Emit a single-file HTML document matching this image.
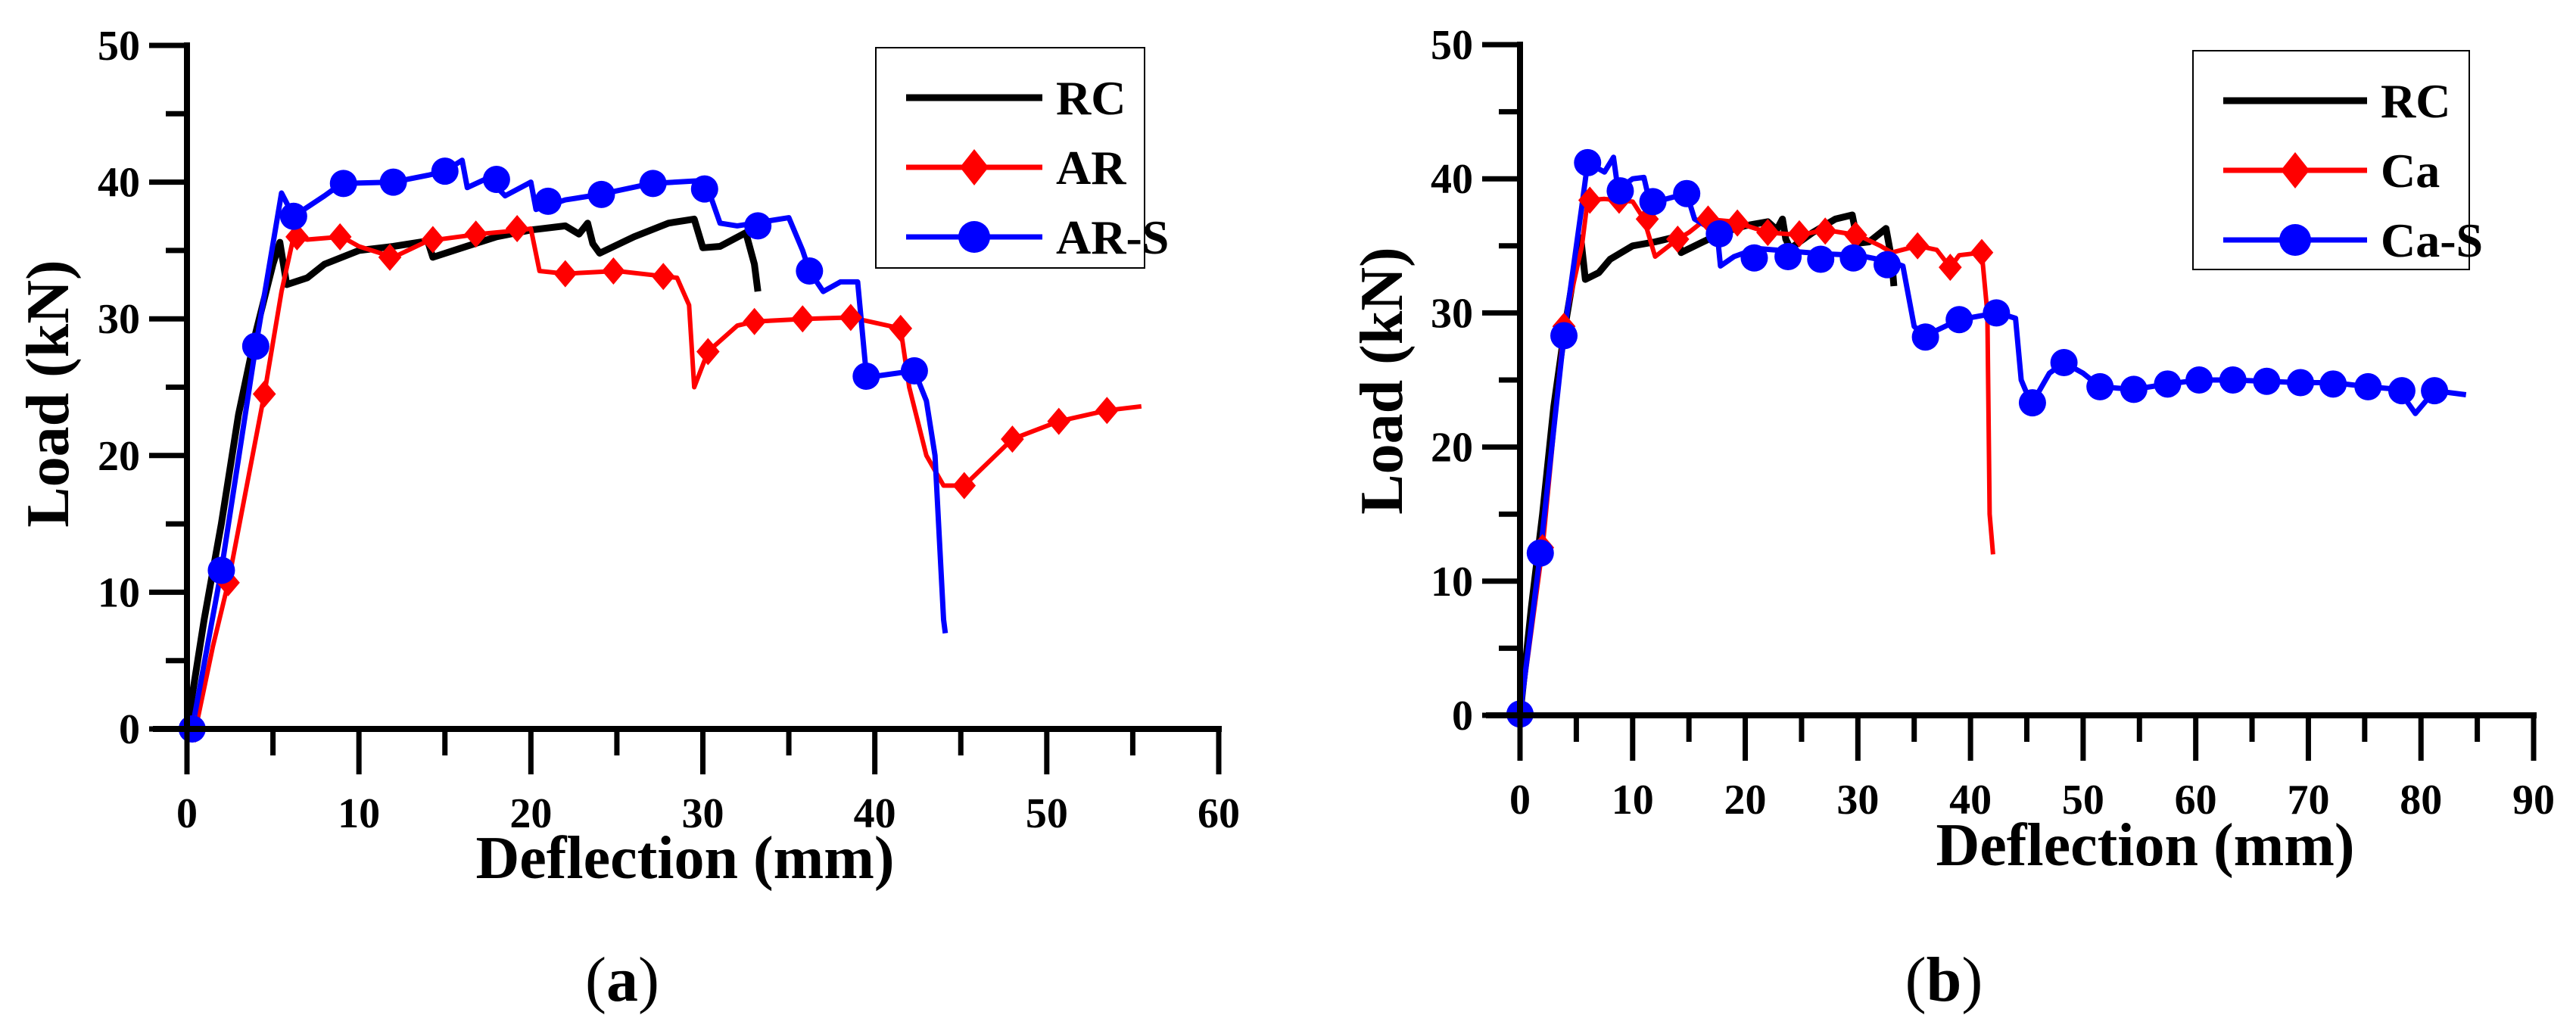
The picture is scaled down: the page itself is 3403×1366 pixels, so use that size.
<!DOCTYPE html>
<html><head><meta charset="utf-8"><style>
html,body{margin:0;padding:0;background:#fff;}
svg{display:block;font-family:"Liberation Serif",serif;}
</style></head><body>
<svg id="fig" width="3403" height="1366" viewBox="0 0 3403 1366" xmlns="http://www.w3.org/2000/svg"></svg>
<script>
// ---------- Panel (a) data ----------
const aRC_x=[0,1,2,3,4,5,5.4,5.8,7,8,10,12,14,14.3,16,18,20,22,22.8,23.3,23.6,24,26,28,29.5,30,31,32.5,33,33.2];
const aRC_y=[0,8,15,23,29,34,35.6,32.5,33,34,35,35.3,35.7,34.5,35.2,36,36.5,36.8,36.2,37,35.5,34.8,36,37,37.3,35.2,35.3,36.3,34,32];
const aAR_x=[0.5,1.5,2.4,4.5,5.5,6.2,7,9,10,12,14,17,19.5,20,20.5,22,25,27.8,28.5,29.2,29.5,30.3,32,33,36,38.6,41.5,42,43,44,45.2,48,50.7,53.5,55.5];
const aAR_y=[0,6,10.7,24.5,32,36,35.8,36,35.3,34.5,35.7,36.2,36.5,36.6,33.5,33.3,33.5,33.1,33,31,25,27.6,29.5,29.8,30,30.1,29.3,25,20,17.8,17.8,21.2,22.5,23.3,23.6];
const aARm_x=[0.5,2.4,4.5,6.4,8.9,11.8,14.3,16.8,19.2,22,24.8,27.7,30.3,33,35.8,38.6,41.5,45.2,48,50.7,53.5];
const aARm_y=[0,10.7,24.5,36,36,34.5,35.8,36.2,36.6,33.3,33.5,33.1,27.6,29.8,30,30.1,29.3,17.8,21.2,22.5,23.3];
const aARS_x=[0.3,2,4,5.5,6.2,8,9,12,14,15,16,16.3,17.5,18.5,20,20.3,22,24,27,29.8,30.3,31,32,33,35,35.8,36.2,37,38,39,39.5,40,42.3,43,43.5,44,44.1];
const aARS_y=[0,11.6,28,39.2,37.5,39,39.9,40,40.5,40.8,41.6,39.6,40.3,39,40,38,38.7,39.1,39.9,40.1,39.5,37,36.8,37,37.4,35,33.5,32,32.7,32.7,26,25.8,26.2,24,20,8,7];
const aARSm_x=[0.3,2,4,6.2,9.1,12,15,18,21,24.1,27.1,30.1,33.2,36.2,39.5,42.3];
const aARSm_y=[0,11.6,28,37.5,39.9,40,40.8,40.2,38.6,39.1,39.9,39.5,36.8,33.5,25.8,26.2];
// ---------- Panel (b) data ----------
const bRC_x=[0,1,2,3,4,5,5.4,5.8,7,8,10,12,14,14.3,16,18,20,22,22.8,23.3,23.6,24,26,28,29.5,30,31,32.5,33,33.2];
const bRC_y=[0,8,15,23,29,34,35.6,32.5,33,34,35,35.3,35.7,34.5,35.2,36,36.5,36.8,36.2,37,35.5,34.8,36,37,37.3,35.2,35.3,36.3,34,32];
const bCa_x=[0,2,3.9,5.5,6,7.5,10,11,12,14,15,16.5,19,22,25,27,30,32,33,35.3,37,38.2,39,41,41.5,41.7,42];
const bCa_y=[0,12.5,29,35,38.4,38.5,38.3,37,34.2,35.5,36,37,36.8,36,35.8,36.2,35.8,35,34.5,35,34.7,33.4,34.3,34.5,30,15,12];
const bCam_x=[2,3.9,6.2,8.8,11.3,14,16.7,19.3,22,24.8,27.1,29.8,35.3,38.2,41];
const bCam_y=[12.5,29,38.4,38.4,37,35.5,37,36.7,36,35.9,36.1,35.8,35,33.4,34.5];
const bCaS_x=[0,1.8,3.9,5.5,6,7.5,8.3,8.7,10,11,11.5,13,14.8,15.5,17.5,17.8,19,21,24,27,30,33,34,35,36,37,39,41,42.5,44,44.5,45,45.5,47,48.3,50,51.5,54.5,57.5,60.3,63.3,66.3,69.3,72.2,75.3,78,79.5,81.2,84];
const bCaS_y=[0,12.1,28.3,38,41.2,40.5,41.6,39.2,40,40.1,38.3,38.5,38.9,37,36,33.5,34.2,34.8,34.6,34.4,34.3,33.8,33.5,29,28.2,28.7,29.5,29.8,30,29.6,25,24,23.3,25.5,26.3,25.5,24.5,24.3,24.7,25,25,24.9,24.8,24.8,24.5,24.3,22.5,24.2,23.9];
const bCaSm_x=[0,1.8,3.9,6,8.9,11.8,14.8,17.7,20.8,23.8,26.7,29.6,32.6,36,39,42.3,45.5,48.3,51.5,54.5,57.5,60.3,63.3,66.3,69.3,72.2,75.3,78.3,81.2];
const bCaSm_y=[0.1,12.1,28.3,41.2,39.1,38.3,38.9,35.9,34.1,34.2,34,34.1,33.6,28.2,29.5,30,23.3,26.3,24.5,24.3,24.7,25,25,24.9,24.8,24.7,24.5,24.2,24.2];
const yTicks=[0,10,20,30,40,50];
const aXTicks=[0,10,20,30,40,50,60];
const bXTicks=[0,10,20,30,40,50,60,70,80,90];

const NS="http://www.w3.org/2000/svg";
const svg=document.getElementById('fig');
function mk(tag,attrs,parent){const e=document.createElementNS(NS,tag);for(const k in attrs)e.setAttribute(k,attrs[k]);(parent||svg).appendChild(e);return e;}

function panel(P){
  const g=mk('g',{});
  
  
  const sx=v=>P.x0+(v-P.xmin)*(P.x1-P.x0)/(P.xmax-P.xmin);
  const sy=v=>P.y0-(v)*(P.y0-P.y1)/50;
  const series=[[P.s1x,P.s1y,'#000',9,'rc'],[P.s2x,P.s2y,'#ff0000',6,P.s2n],[P.s3x,P.s3y,'#0000ff',7,P.s3n]];
  series.forEach(s=>{
    const pts=s[0].map((x,i)=>sx(x).toFixed(1)+','+sy(s[1][i]).toFixed(1)).join(' ');
    const pl=mk('polyline',{points:pts,fill:'none',stroke:s[2],'stroke-width':s[3],'stroke-linejoin':'round'},g);
    
    
  });
  P.m2x.forEach((x,i)=>{
    const cx=sx(x),cy=sy(P.m2y[i]),r=18;
    const d=mk('polygon',{points:`${cx},${cy-r} ${cx+r*0.85},${cy} ${cx},${cy+r} ${cx-r*0.85},${cy}`,fill:'#ff0000'},g);
    
    
  });
  P.m3x.forEach((x,i)=>{
    const c=mk('circle',{cx:sx(x),cy:sy(P.m3y[i]),r:18,fill:'#0000ff'},g);
    
    
  });
  const ax=mk('line',{x1:P.x0-45,y1:P.y0,x2:P.x1+4,y2:P.y0,stroke:'#000','stroke-width':8},g);
  
  
  const ay=mk('line',{x1:P.x0,y1:P.y0+4,x2:P.x0,y2:P.y1-4,stroke:'#000','stroke-width':8},g);
  
  
  for(let v=P.xmin;v<=P.xmax;v+=5){
    const major=(v%10===0);
    mk('line',{x1:sx(v),y1:P.y0,x2:sx(v),y2:P.y0+(major?60:35),stroke:'#000','stroke-width':7},g);
  }
  P.xt.forEach(v=>{
    const t=mk('text',{x:sx(v),y:P.y0+130,'text-anchor':'middle','font-size':56,'font-weight':'bold'},g);
    t.textContent=v;
    
    
  });
  for(let v=0;v<=50;v+=5){
    const major=(v%10===0);
    mk('line',{x1:P.x0-(major?50:28),y1:sy(v),x2:P.x0,y2:sy(v),stroke:'#000','stroke-width':7},g);
  }
  yTicks.forEach(v=>{
    const t=mk('text',{x:P.x0-62,y:sy(v)+19,'text-anchor':'end','font-size':56,'font-weight':'bold'},g);
    t.textContent=v;
    
    
  });
  const xtl=mk('text',{x:P.xtc,y:P.xty,'text-anchor':'middle','font-size':80,'font-weight':'bold'},g);
  xtl.textContent='Deflection (mm)';
  
  
  const ytl=mk('text',{x:0,y:0,'text-anchor':'middle','font-size':80,'font-weight':'bold',transform:`translate(${P.ytx},${P.yty}) rotate(-90)`},g);
  ytl.textContent='Load (kN)';
  
  
  const L=P.leg;
  const lb=mk('rect',{x:L.x,y:L.y,width:L.w,height:L.h,fill:'#fff',stroke:'#000','stroke-width':2},g);
  
  
  const labels=['RC',P.s2l,P.s3l],cols=['#000','#ff0000','#0000ff'];
  labels.forEach((lab,i)=>{
    const yy=L.y+66+i*92,lx0=L.x+40,lx1=L.x+L.w-135;
    mk('line',{x1:lx0,y1:yy,x2:lx1,y2:yy,stroke:cols[i],'stroke-width':i===0?9:7},g);
    const mx=(lx0+lx1)/2;
    if(i===1) mk('polygon',{points:`${mx},${yy-24} ${mx+19},${yy} ${mx},${yy+24} ${mx-19},${yy}`,fill:'#ff0000'},g);
    if(i===2) mk('circle',{cx:mx,cy:yy,r:21,fill:'#0000ff'},g);
    const t=mk('text',{x:lx1+18,y:yy+22,'font-size':64,'font-weight':'bold'},g);
    t.textContent=lab;
    
    
  });
  const cap=mk('text',{x:P.capx,y:1322,'text-anchor':'middle','font-size':84},g);
  cap.innerHTML='(<tspan font-weight="bold">'+P.cap+'</tspan>)';
  
  
}

panel({name:'panel-a',x0:247,x1:1610,xmin:0,xmax:60,y0:963,y1:60,xt:aXTicks,
  s1x:aRC_x,s1y:aRC_y,s2x:aAR_x,s2y:aAR_y,s3x:aARS_x,s3y:aARS_y,
  m2x:aARm_x,m2y:aARm_y,m3x:aARSm_x,m3y:aARSm_y,s2n:'ar',s3n:'ar-s',s2l:'AR',s3l:'AR-S',
  xtc:905,xty:1160,ytx:90,yty:520,leg:{x:1157,y:63,w:355,h:291},capx:822,cap:'a'});
panel({name:'panel-b',x0:2008,x1:3347,xmin:0,xmax:90,y0:945,y1:59,xt:bXTicks,
  s1x:bRC_x,s1y:bRC_y,s2x:bCa_x,s2y:bCa_y,s3x:bCaS_x,s3y:bCaS_y,
  m2x:bCam_x,m2y:bCam_y,m3x:bCaSm_x,m3y:bCaSm_y,s2n:'ca',s3n:'ca-s',s2l:'Ca',s3l:'Ca-S',
  xtc:2834,xty:1143,ytx:1852,yty:503,leg:{x:2897,y:67,w:365,h:289},capx:2568,cap:'b'});
</script>
</body></html>
